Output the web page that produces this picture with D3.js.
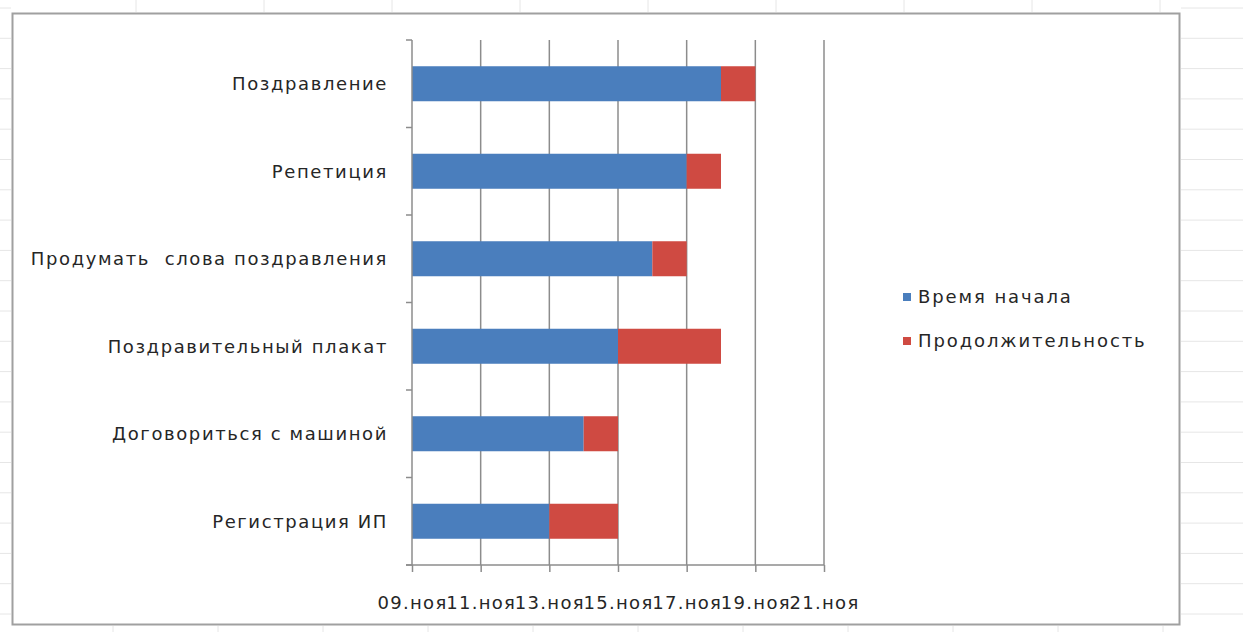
<!DOCTYPE html>
<html>
<head>
<meta charset="utf-8">
<script src="https://cdn.jsdelivr.net/npm/d3@7"></script>
<style>
  html, body { margin: 0; padding: 0; background: #fff; }
  svg { display: block; }
  text { font-family: "DejaVu Sans", Verdana, sans-serif; fill: #262626; white-space: pre; }
</style>
</head>
<body>
<svg id="chart" width="1243" height="632"></svg>
<script>
// Task list (bottom-to-top order as in the sheet)
const tasks = [
  "Регистрация ИП",
  "Договориться с машиной",
  "Поздравительный плакат",
  "Продумать  слова поздравления",
  "Репетиция",
  "Поздравление"
];
// Start day in November and duration in days
const startDay = [13, 14, 15, 16, 17, 18];
const durationDays = [2, 1, 3, 1, 1, 1];
// Axis tick days and labels
const tickDays = [9, 11, 13, 15, 17, 19, 21];
const tickLabels = ["09.ноя", "11.ноя", "13.ноя", "15.ноя", "17.ноя", "19.ноя", "21.ноя"];
const seriesNames = ["Время начала", "Продолжительность"];
const seriesColors = ["#4A7EBD", "#CF4A42"];

const YEAR = 2012;
const day = d => new Date(YEAR, 10, d);

const FONT = "18px";
const SPACING = "1.6px";

const svg = d3.select("#chart");

// spreadsheet grid visible around the chart frame
const sheet = svg.append("g").attr("stroke", "#e6e6e6").attr("stroke-width", 1);
d3.range(8, 632, 30.3).forEach(y => {
  sheet.append("line").attr("x1", 0).attr("x2", 11).attr("y1", y).attr("y2", y);
  sheet.append("line").attr("x1", 1181).attr("x2", 1243).attr("y1", y).attr("y2", y);
});
d3.range(136, 1180, 128).forEach(x => {
  sheet.append("line").attr("x1", x).attr("x2", x).attr("y1", 0).attr("y2", 12);
});
d3.range(113, 1243, 105).forEach(x => {
  sheet.append("line").attr("x1", x).attr("x2", x).attr("y1", 626).attr("y2", 632);
});

// chart frame
svg.append("rect")
  .attr("x", 12.5).attr("y", 13.5).attr("width", 1167).attr("height", 611)
  .attr("fill", "#fff").attr("stroke", "#a0a0a0").attr("stroke-width", 2);

const plot = { left: 412, right: 824, top: 40, bottom: 565 };

const x = d3.scaleTime()
  .domain([day(tickDays[0]), day(tickDays[tickDays.length - 1])])
  .range([plot.left, plot.right]);

const y = d3.scaleBand()
  .domain(tasks.slice().reverse())
  .range([plot.top, plot.bottom])
  .paddingInner(0.6)
  .paddingOuter(0.3);

// vertical gridlines
svg.append("g")
  .selectAll("line")
  .data(tickDays.slice(1))
  .join("line")
  .attr("x1", d => x(day(d))).attr("x2", d => x(day(d)))
  .attr("y1", plot.top).attr("y2", plot.bottom)
  .attr("stroke", "#8c8c8c").attr("stroke-width", 1.5);

// stacked bars: start segment then duration segment
const rows = tasks.map((t, i) => ({ task: t, start: startDay[i], dur: durationDays[i] }));

svg.append("g")
  .selectAll("rect")
  .data(rows)
  .join("rect")
  .attr("x", d => x(day(tickDays[0])))
  .attr("y", d => y(d.task))
  .attr("width", d => x(day(d.start)) - x(day(tickDays[0])))
  .attr("height", y.bandwidth())
  .attr("fill", seriesColors[0]);

svg.append("g")
  .selectAll("rect")
  .data(rows)
  .join("rect")
  .attr("x", d => x(day(d.start)))
  .attr("y", d => y(d.task))
  .attr("width", d => x(day(d.start + d.dur)) - x(day(d.start)))
  .attr("height", y.bandwidth())
  .attr("fill", seriesColors[1]);

// category axis
const yAxis = svg.append("g")
  .attr("transform", `translate(${plot.left},0)`)
  .call(d3.axisLeft(y).tickSize(0).tickPadding(24));
yAxis.select(".domain").attr("stroke", "#8c8c8c").attr("stroke-width", 1.5)
  .attr("d", `M0,${plot.top}V${plot.bottom}`);
yAxis.selectAll("text")
  .style("font-size", FONT).style("letter-spacing", SPACING)
  .attr("fill", "#262626").attr("dy", "0.35em");
// category boundary ticks
const step = y.step();
const bounds = d3.range(tasks.length + 1).map(i => plot.top + i * step);
yAxis.append("g").selectAll("line")
  .data(bounds)
  .join("line")
  .attr("x1", -6).attr("x2", 0)
  .attr("y1", d => d).attr("y2", d => d)
  .attr("stroke", "#8c8c8c").attr("stroke-width", 1.5);

// date axis
const xAxis = svg.append("g")
  .attr("transform", `translate(0,${plot.bottom})`)
  .call(d3.axisBottom(x)
    .tickValues(tickDays.map(day))
    .tickFormat((d, i) => tickLabels[i])
    .tickSize(7).tickSizeOuter(0).tickPadding(24));
xAxis.select(".domain").attr("stroke", "#8c8c8c").attr("stroke-width", 1.5)
  .attr("d", `M${plot.left - 6},0H${plot.right}`);
xAxis.selectAll(".tick line").attr("stroke", "#8c8c8c").attr("stroke-width", 1.5);
xAxis.selectAll("text")
  .style("font-size", FONT).style("letter-spacing", "1.3px")
  .attr("fill", "#262626");

// legend
const legend = svg.append("g").attr("transform", "translate(903,297)");
const item = legend.selectAll("g")
  .data(seriesNames)
  .join("g")
  .attr("transform", (d, i) => `translate(0,${i * 44})`);
item.append("rect")
  .attr("x", 0).attr("y", -4).attr("width", 8).attr("height", 8)
  .attr("fill", (d, i) => seriesColors[i]);
item.append("text")
  .attr("x", 15).attr("dy", "0.35em")
  .style("font-size", FONT).style("letter-spacing", "1.9px")
  .text(d => d);
</script>
</body>
</html>
